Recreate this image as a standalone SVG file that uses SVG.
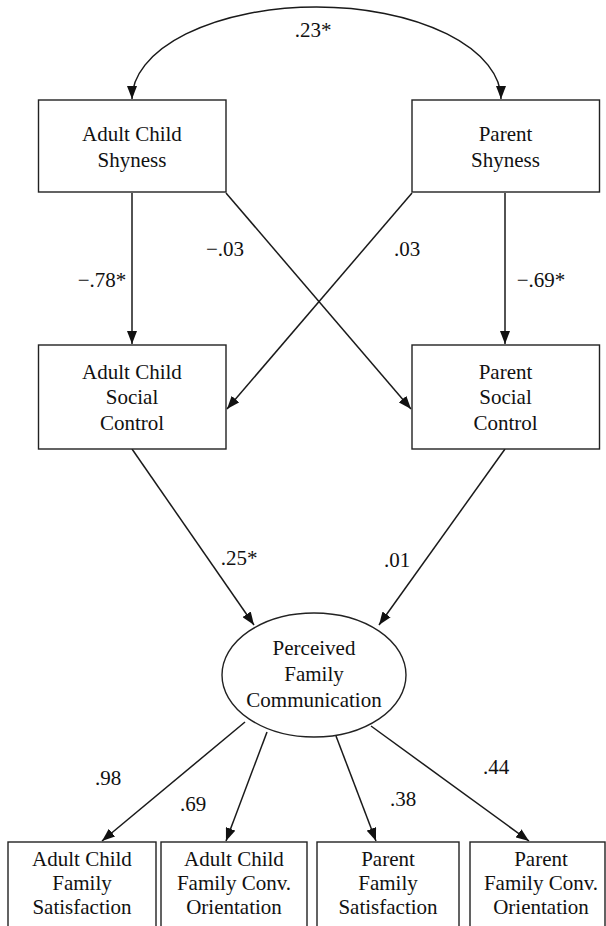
<svg xmlns="http://www.w3.org/2000/svg" width="606" height="926" viewBox="0 0 606 926" font-family="'Liberation Serif', 'Times New Roman', 'DejaVu Serif', serif">
<defs>
<style>
text{font-family:'Liberation Serif','Times New Roman','DejaVu Serif',serif;font-size:21px;fill:#111;text-anchor:middle}
.box{fill:#fff;stroke:#222;stroke-width:1.4}
.ln{fill:none;stroke:#1a1a1a;stroke-width:1.5;marker-end:url(#ah)}
.both{marker-start:url(#ah)}
</style>
<marker id="ah" markerUnits="userSpaceOnUse" markerWidth="14" markerHeight="10" refX="13" refY="5" orient="auto-start-reverse">
<path d="M0,0 L13,5 L0,10 z" fill="#111"/>
</marker>
</defs>
<rect width="606" height="926" fill="#fff"/>
<g id="connectors">
<path class="ln both" d="M132,99 A184.5 92 0 0 1 501,99"/>
<line class="ln" x1="132" y1="193" x2="132" y2="344"/>
<line class="ln" x1="505" y1="193" x2="505" y2="344"/>
<line class="ln" x1="226" y1="193" x2="411" y2="409"/>
<line class="ln" x1="412" y1="193" x2="227" y2="409"/>
<line class="ln" x1="132" y1="449" x2="254" y2="625"/>
<line class="ln" x1="505" y1="449" x2="379" y2="625"/>
<line class="ln" x1="245" y1="722" x2="102" y2="841"/>
<line class="ln" x1="267" y1="732" x2="226" y2="841"/>
<line class="ln" x1="336" y1="736" x2="376" y2="841"/>
<line class="ln" x1="371" y1="726" x2="529" y2="841"/>
<text x="313" y="37">.23*</text>
<text x="102" y="287">−.78*</text>
<text x="225" y="256">−.03</text>
<text x="407" y="256">.03</text>
<text x="541" y="287">−.69*</text>
<text x="239" y="565">.25*</text>
<text x="397" y="567">.01</text>
<text x="108" y="785">.98</text>
<text x="193" y="811">.69</text>
<text x="403" y="806">.38</text>
<text x="496" y="774">.44</text>
</g>
<g id="acShy">
<rect class="box" x="38.5" y="100" width="187.5" height="92"/>
<text x="132" y="141">Adult Child</text>
<text x="132" y="167">Shyness</text>
</g>
<g id="pShy">
<rect class="box" x="412" y="100" width="187.5" height="92"/>
<text x="505.5" y="141">Parent</text>
<text x="505.5" y="167">Shyness</text>
</g>
<g id="acSC">
<rect class="box" x="38.5" y="345" width="187.5" height="104"/>
<text x="132" y="379">Adult Child</text>
<text x="132" y="404">Social</text>
<text x="132" y="430">Control</text>
</g>
<g id="pSC">
<rect class="box" x="412" y="345" width="187.5" height="104"/>
<text x="505.5" y="379">Parent</text>
<text x="505.5" y="404">Social</text>
<text x="505.5" y="430">Control</text>
</g>
<g id="pfc">
<ellipse class="box" cx="314" cy="675" rx="92" ry="62"/>
<text x="314" y="655">Perceived</text>
<text x="314" y="681">Family</text>
<text x="314" y="707">Communication</text>
</g>
<g id="acFS">
<rect class="box" x="8" y="842" width="148" height="100"/>
<text x="82" y="866">Adult Child</text>
<text x="82" y="890">Family</text>
<text x="82" y="914">Satisfaction</text>
</g>
<g id="acFCO">
<rect class="box" x="161" y="842" width="146" height="100"/>
<text x="234" y="866">Adult Child</text>
<text x="234" y="890">Family Conv.</text>
<text x="234" y="914">Orientation</text>
</g>
<g id="pFS">
<rect class="box" x="317" y="842" width="142" height="100"/>
<text x="388" y="866">Parent</text>
<text x="388" y="890">Family</text>
<text x="388" y="914">Satisfaction</text>
</g>
<g id="pFCO">
<rect class="box" x="470" y="842" width="135" height="100"/>
<text x="541" y="866">Parent</text>
<text x="541" y="890">Family Conv.</text>
<text x="541" y="914">Orientation</text>
</g>
</svg>
